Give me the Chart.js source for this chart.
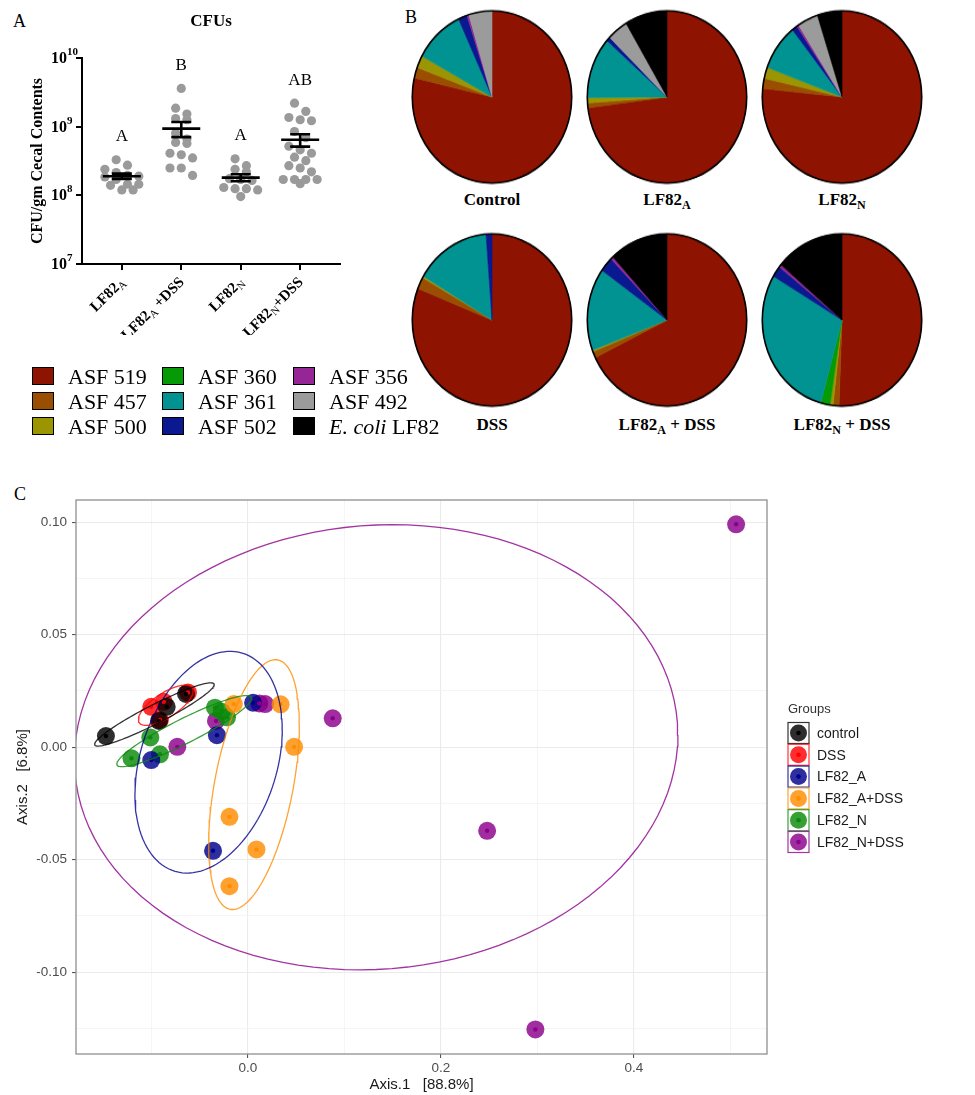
<!DOCTYPE html>
<html>
<head>
<meta charset="utf-8">
<script src="https://cdn.jsdelivr.net/npm/chart.js@4.4.1/dist/chart.umd.min.js"></script>
<style>
  body { margin: 0; background: #fff; }
  #page { position: relative; width: 975px; height: 1095px; overflow: hidden; font-family: 'Liberation Serif', 'Times New Roman', serif; color: #000; }
  canvas { position: absolute; }
  .pie { transform: scaleY(1.08); }
  .tag { position: absolute; font-size: 18px; line-height: 18px; }
  .pielbl { position: absolute; width: 180px; text-align: center; font-weight: bold; font-size: 17px; line-height: 20px; }
  .pielbl sub { font-size: 12px; vertical-align: -4px; line-height: 0; }
  .legtxt { position: absolute; font-size: 22px; line-height: 25px; white-space: nowrap; }
  .sw { position: absolute; width: 22px; height: 18px; box-sizing: border-box; border: 1.6px solid #000; }
</style>
</head>
<body>
<div id="page">
  <div class="tag" style="left:13px;top:12px">A</div>
  <div class="tag" style="left:405px;top:8px">B</div>
  <div class="tag" style="left:14px;top:485px">C</div>
  <canvas id="cfu" width="360" height="335" style="left:0;top:0"></canvas>
  <div id="pies"></div>
  <div id="taxaLegend"></div>
  <canvas id="pcoa" width="975" height="625" style="left:0;top:470px"></canvas>
</div>
<script>
// ---------- A: CFU per gram cecal contents ----------
const cfuGroups = ['LF82_A', 'LF82_A +DSS', 'LF82_N', 'LF82_N+DSS'];
const cfuLF82A = [3.3e8, 2.75e8, 2.4e8, 2.15e8, 1.95e8, 1.9e8, 1.85e8, 1.7e8, 1.45e8, 1.45e8, 1.4e8, 1.2e8, 1.2e8];
const cfuLF82ADSS = [3.6e9, 1.86e9, 1.53e9, 1.31e9, 1.26e9, 8.1e8, 6.6e8, 5.9e8, 5.7e8, 4.1e8, 3.9e8, 3.5e8, 2.5e8, 2.5e8, 1.95e8];
const cfuLF82N = [3.4e8, 2.7e8, 2.4e8, 2.2e8, 1.75e8, 1.7e8, 1.65e8, 1.3e8, 1.25e8, 1.25e8, 1.2e8, 9.6e7];
const cfuLF82NDSS = [2.2e9, 1.67e9, 1.36e9, 1.26e9, 1.22e9, 8.5e8, 6.9e8, 5.2e8, 4.6e8, 4.1e8, 3.6e8, 3.2e8, 2.7e8, 2.5e8, 2.2e8, 1.7e8, 1.7e8, 1.7e8, 1.7e8, 1.48e8];
const cfuLetters = ['A', 'B', 'A', 'AB'];
const cfuTicks = [1e7, 1e8, 1e9, 1e10];

// ---------- B: relative abundance (%) ----------
const taxa = ['ASF 519', 'ASF 457', 'ASF 500', 'ASF 360', 'ASF 361', 'ASF 502', 'ASF 356', 'ASF 492', 'E. coli LF82'];
const taxaColors = ['#8E1300', '#9A4E00', '#9A9500', '#079A07', '#009392', '#0A1990', '#962596', '#9B9B9B', '#000000'];
const pieGroups = ['Control', 'LF82_A', 'LF82_N', 'DSS', 'LF82_A + DSS', 'LF82_N + DSS'];
const pieControl = [78.6, 2.0, 2.3, 0, 10.2, 1.8, 0.4, 4.7, 0];
const pieLF82A = [73.0, 0.9, 1.0, 0, 11.5, 0.8, 0, 4.2, 8.6];
const pieLF82N = [76.6, 1.9, 2.1, 0, 8.7, 1.1, 0.4, 4.2, 5.0];
const pieDSS = [81.0, 2.2, 0.3, 0, 15.3, 1.2, 0, 0, 0];
const pieLF82ADSS = [67.8, 1.2, 0.3, 0, 15.5, 2.8, 0.5, 0, 11.9];
const pieLF82NDSS = [50.6, 1.2, 0.6, 1.9, 29.2, 2.1, 0.5, 0, 13.9];

// ---------- C: PCoA (Axis.1, Axis.2) ----------
const pcGroups = ['control', 'DSS', 'LF82_A', 'LF82_A+DSS', 'LF82_N', 'LF82_N+DSS'];
const pcColors = ['#000000', '#FF0000', '#00008B', '#FF8C00', '#0A8A0A', '#8B008B'];
const pcControl = [[-0.147, 0.0049], [-0.092, 0.0116], [-0.084, 0.0179], [-0.064, 0.0236]];
const pcDSS = [[-0.100, 0.0179], [-0.087, 0.0201], [-0.062, 0.0243], [-0.091, 0.0120]];
const pcLF82A = [[-0.100, -0.0058], [-0.032, 0.0053], [0.0055, 0.0197], [-0.036, -0.0461]];
const pcLF82ADSS = [[-0.0145, 0.0191], [0.034, 0.0190], [0.048, 0.0001], [-0.019, -0.0310], [0.009, -0.0455], [-0.019, -0.0618]];
const pcLF82N = [[-0.101, 0.0043], [-0.1205, -0.0050], [-0.091, -0.0032], [-0.034, 0.0175], [-0.027, 0.0157], [-0.0215, 0.0132]];
const pcLF82NDSS = [[-0.073, 0.0001], [-0.033, 0.0116], [0.012, 0.0194], [0.018, 0.0191], [0.088, 0.0128], [0.248, -0.0372], [0.298, -0.1255], [0.506, 0.0990]];
const ellipseLevel = 0.65;

Chart.defaults.font.family = 'Liberation Sans';

function splitSub(s) {
  const out = [];
  s.split(/_(\w)/).forEach((t, i) => { if (t) out.push({ t: t, sub: i % 2 === 1 }); });
  return out;
}
function alpha(hex, a) {
  const n = parseInt(hex.slice(1), 16);
  return 'rgba(' + (n >> 16) + ',' + ((n >> 8) & 255) + ',' + (n & 255) + ',' + a + ')';
}

// dot-plot layout: rows of similar values spread sideways
function swarm(vals, gi) {
  const sorted = vals.slice().sort((a, b) => b - a);
  const rows = [];
  sorted.forEach(v => {
    const r = rows[rows.length - 1];
    if (r && Math.log10(r[0]) - Math.log10(v) < 0.12 && r.length < 4) r.push(v);
    else rows.push([v]);
  });
  const pts = [];
  rows.forEach(r => r.forEach((v, j) => pts.push({ x: gi + (j - (r.length - 1) / 2) * 0.19, y: v })));
  return pts;
}

const cfuSets = [cfuLF82A, cfuLF82ADSS, cfuLF82N, cfuLF82NDSS];

const cfuDecor = {
  id: 'cfuDecor',
  afterDraw(chart) {
    const { ctx, chartArea } = chart;
    const x = chart.scales.x, y = chart.scales.y;
    ctx.save();
    ctx.fillStyle = '#000';
    ctx.strokeStyle = '#000';
    ctx.textBaseline = 'middle';
    ctx.font = 'bold 17px "Liberation Serif"';
    ctx.textAlign = 'center';
    ctx.fillText('CFUs', (chartArea.left + chartArea.right) / 2, 22);

    cfuTicks.forEach(v => {
      const py = y.getPixelForValue(v);
      ctx.font = 'bold 16px "Liberation Serif"';
      ctx.textAlign = 'right';
      ctx.fillText('10', chartArea.left - 15, py + 1);
      ctx.font = 'bold 11px "Liberation Serif"';
      ctx.textAlign = 'left';
      ctx.fillText(String(Math.round(Math.log10(v))), chartArea.left - 15, py - 6);
    });

    cfuGroups.forEach((g, i) => {
      const segs = splitSub(g);
      ctx.save();
      ctx.translate(x.getPixelForValue(i) + 1, chartArea.bottom + 16);
      ctx.rotate(-Math.PI / 4);
      let total = 0;
      segs.forEach(s => {
        ctx.font = s.sub ? '11px "Liberation Serif"' : 'bold 15px "Liberation Serif"';
        s.w = ctx.measureText(s.t).width;
        total += s.w;
      });
      let cx = -total;
      ctx.textAlign = 'left';
      segs.forEach(s => {
        ctx.font = s.sub ? '11px "Liberation Serif"' : 'bold 15px "Liberation Serif"';
        ctx.fillText(s.t, cx, s.sub ? 4 : 0);
        cx += s.w;
      });
      ctx.restore();
    });

    cfuSets.forEach((vals, i) => {
      const n = vals.length;
      const m = vals.reduce((a, b) => a + b, 0) / n;
      const sd = Math.sqrt(vals.reduce((a, b) => a + (b - m) * (b - m), 0) / (n - 1));
      const sem = sd / Math.sqrt(n);
      const px = x.getPixelForValue(i);
      const pm = y.getPixelForValue(m), pu = y.getPixelForValue(m + sem), pl = y.getPixelForValue(m - sem);
      ctx.lineWidth = 2.6;
      ctx.beginPath();
      ctx.moveTo(px - 19, pm); ctx.lineTo(px + 19, pm);
      ctx.moveTo(px, pu); ctx.lineTo(px, pl);
      ctx.moveTo(px - 10, pu); ctx.lineTo(px + 10, pu);
      ctx.moveTo(px - 10, pl); ctx.lineTo(px + 10, pl);
      ctx.stroke();
      const top = y.getPixelForValue(Math.max(...vals));
      ctx.font = '17px "Liberation Serif"';
      ctx.textAlign = 'center';
      ctx.fillText(cfuLetters[i], px, top - 23);
    });
    ctx.restore();
  }
};

new Chart(document.getElementById('cfu'), {
  type: 'scatter',
  data: {
    datasets: [{
      data: cfuSets.flatMap((v, i) => swarm(v, i)),
      backgroundColor: '#9a9a9a',
      borderWidth: 0,
      pointRadius: 4.6
    }]
  },
  options: {
    responsive: false,
    animation: false,
    events: [],
    layout: { padding: { top: 58, right: 20, left: 0, bottom: 0 } },
    plugins: { legend: { display: false }, tooltip: { enabled: false } },
    scales: {
      x: {
        type: 'linear', min: -0.67, max: 3.67,
        afterFit: s => { s.height = 71; },
        afterBuildTicks: s => { s.ticks = cfuGroups.map((g, i) => ({ value: i })); },
        ticks: { display: false },
        grid: { drawOnChartArea: false, color: '#000', lineWidth: 2, tickLength: 6 },
        border: { color: '#000', width: 2 }
      },
      y: {
        type: 'logarithmic', min: 1e7, max: 1e10,
        afterFit: s => { s.width = 82; },
        afterBuildTicks: s => { s.ticks = cfuTicks.map(v => ({ value: v })); },
        ticks: { display: false },
        grid: { drawOnChartArea: false, color: '#000', lineWidth: 2, tickLength: 6 },
        border: { color: '#000', width: 2 },
        title: {
          display: true, text: 'CFU/gm Cecal Contents', color: '#000',
          font: { family: 'Liberation Serif', weight: 'bold', size: 16 },
          padding: { top: 28, bottom: 0 }
        }
      }
    }
  },
  plugins: [cfuDecor]
});

// ---------- B: pies ----------
const pieSets = [pieControl, pieLF82A, pieLF82N, pieDSS, pieLF82ADSS, pieLF82NDSS];
const pieRim = {
  id: 'pieRim',
  afterDatasetsDraw(chart) {
    const a = chart.getDatasetMeta(0).data[0];
    if (!a) return;
    const ctx = chart.ctx;
    ctx.save();
    ctx.beginPath();
    ctx.arc(a.x, a.y, a.outerRadius, 0, Math.PI * 2);
    ctx.lineWidth = 1.6;
    ctx.strokeStyle = '#000';
    ctx.stroke();
    ctx.restore();
  }
};
const pieHolder = document.getElementById('pies');
const colX = [492, 667, 842], rowY = [97, 320], lblY = [200, 425];
pieSets.forEach((vals, i) => {
  const cx = colX[i % 3], cy = rowY[Math.floor(i / 3)];
  const cv = document.createElement('canvas');
  cv.width = 164; cv.height = 164;
  cv.className = 'pie';
  cv.style.left = (cx - 82) + 'px';
  cv.style.top = (cy - 82) + 'px';
  pieHolder.appendChild(cv);
  new Chart(cv, {
    type: 'pie',
    data: {
      labels: taxa,
      datasets: [{ data: vals, backgroundColor: taxaColors, borderColor: taxaColors, borderWidth: 0.6 }]
    },
    options: {
      responsive: false,
      animation: false,
      events: [],
      layout: { padding: 2 },
      plugins: { legend: { display: false }, tooltip: { enabled: false } }
    },
    plugins: [pieRim]
  });
  const lb = document.createElement('div');
  lb.className = 'pielbl';
  lb.style.left = (cx - 90) + 'px';
  lb.style.top = (lblY[Math.floor(i / 3)] - 10) + 'px';
  lb.innerHTML = splitSub(pieGroups[i]).map(s => s.sub ? '<sub>' + s.t + '</sub>' : s.t).join('');
  pieHolder.appendChild(lb);
});

// taxa legend (3 columns)
const legHolder = document.getElementById('taxaLegend');
const legColX = [32, 162, 293], legRowY = [376, 401, 426];
taxa.forEach((t, i) => {
  const col = Math.floor(i / 3), row = i % 3;
  const sw = document.createElement('div');
  sw.className = 'sw';
  sw.style.left = legColX[col] + 'px';
  sw.style.top = (legRowY[row] - 9) + 'px';
  sw.style.background = taxaColors[i];
  legHolder.appendChild(sw);
  const tx = document.createElement('div');
  tx.className = 'legtxt';
  tx.style.left = (legColX[col] + 36) + 'px';
  tx.style.top = (legRowY[row] - 12.5) + 'px';
  tx.innerHTML = t.startsWith('E. coli') ? '<i>E. coli</i>' + t.slice(7) : t;
  legHolder.appendChild(tx);
});

// ---------- C: PCoA with normal-theory ellipses ----------
function ellipse(pts) {
  const n = pts.length;
  const mx = pts.reduce((a, q) => a + q[0], 0) / n;
  const my = pts.reduce((a, q) => a + q[1], 0) / n;
  let sxx = 0, sxy = 0, syy = 0;
  pts.forEach(q => {
    const dx = q[0] - mx, dy = q[1] - my;
    sxx += dx * dx; sxy += dx * dy; syy += dy * dy;
  });
  sxx /= n - 1; sxy /= n - 1; syy /= n - 1;
  const d = n - 1;
  const q = d / 2 * (Math.pow(1 - ellipseLevel, -2 / d) - 1);
  const r = Math.sqrt(2 * q);
  const a = Math.sqrt(sxx), b = sxy / a, c = Math.sqrt(Math.max(syy - b * b, 0));
  const out = [];
  const segs = 120;
  for (let k = 0; k <= segs; k++) {
    const t = k * 2 * Math.PI / segs;
    out.push({ x: mx + r * Math.cos(t) * a, y: my + r * (Math.cos(t) * b + Math.sin(t) * c) });
  }
  return out;
}

const pcSets = [pcControl, pcDSS, pcLF82A, pcLF82ADSS, pcLF82N, pcLF82NDSS];
const pcDatasets = [];
pcSets.forEach((pts, i) => {
  const xy = pts.map(q => ({ x: q[0], y: q[1] }));
  pcDatasets.push({ data: ellipse(pts), showLine: true, pointRadius: 0, borderColor: alpha(pcColors[i], 0.8), borderWidth: 1.3, fill: false, order: 0 });
  pcDatasets.push({ data: xy, pointRadius: 2.2, backgroundColor: pcColors[i], borderWidth: 0, order: 1 });
  pcDatasets.push({ data: xy, pointRadius: 9, backgroundColor: alpha(pcColors[i], 0.82), borderWidth: 0, order: 2 });
});

function isMajor(v, step) { return Math.abs(Math.round(v / step) * step - v) < 1e-6; }
function fmt(v, dp) { return (Math.abs(v) < 1e-9 ? 0 : v).toFixed(dp); }

const pcDecor = {
  id: 'pcDecor',
  afterDraw(chart) {
    const { ctx, chartArea } = chart;
    ctx.save();
    ctx.strokeStyle = '#8f8f8f';
    ctx.lineWidth = 1.3;
    ctx.strokeRect(chartArea.left, chartArea.top, chartArea.right - chartArea.left, chartArea.bottom - chartArea.top);
    const lx = chartArea.right + 21;
    ctx.fillStyle = '#333';
    ctx.font = '13px "Liberation Sans"';
    ctx.textAlign = 'left';
    ctx.textBaseline = 'middle';
    ctx.fillText('Groups', lx, 239);
    pcGroups.forEach((g, i) => {
      const cy = 263 + i * 21.8;
      ctx.fillStyle = '#fff';
      ctx.fillRect(lx, cy - 10.5, 21, 21);
      ctx.strokeStyle = alpha(pcColors[i], 0.8);
      ctx.lineWidth = 1.2;
      ctx.strokeRect(lx, cy - 10.5, 21, 21);
      ctx.fillStyle = alpha(pcColors[i], 0.82);
      ctx.beginPath(); ctx.arc(lx + 10.5, cy, 8.5, 0, Math.PI * 2); ctx.fill();
      ctx.fillStyle = pcColors[i];
      ctx.beginPath(); ctx.arc(lx + 10.5, cy, 2.3, 0, Math.PI * 2); ctx.fill();
      ctx.fillStyle = '#1a1a1a';
      ctx.font = '14px "Liberation Sans"';
      ctx.fillText(g, lx + 29, cy + 1);
    });
    ctx.restore();
  }
};

new Chart(document.getElementById('pcoa'), {
  type: 'scatter',
  data: { datasets: pcDatasets },
  options: {
    responsive: false,
    animation: false,
    events: [],
    layout: { padding: { top: 30, right: 208, left: 0, bottom: 0 } },
    plugins: { legend: { display: false }, tooltip: { enabled: false } },
    scales: {
      x: {
        type: 'linear', min: -0.178, max: 0.538,
        afterFit: s => { s.height = 41; },
        ticks: {
          stepSize: 0.1, includeBounds: false, maxTicksLimit: 30, autoSkip: false, maxRotation: 0,
          padding: 2, color: '#4d4d4d', font: { size: 13.5 },
          callback: v => isMajor(v, 0.2) ? fmt(v, 1) : ''
        },
        grid: {
          color: c => isMajor(c.tick.value, 0.2) ? '#ebebeb' : '#f3f3f3',
          lineWidth: c => isMajor(c.tick.value, 0.2) ? 1.1 : 0.8,
          tickColor: c => isMajor(c.tick.value, 0.2) ? '#555' : 'rgba(0,0,0,0)',
          tickLength: 4
        },
        border: { display: false },
        title: { display: true, text: 'Axis.1   [88.8%]', color: '#1a1a1a', font: { size: 15 }, padding: { top: 0, bottom: 1 } }
      },
      y: {
        type: 'linear', min: -0.1364, max: 0.1098,
        afterFit: s => { s.width = 76; },
        ticks: {
          stepSize: 0.025, includeBounds: false, maxTicksLimit: 30, autoSkip: false,
          padding: 5, color: '#4d4d4d', font: { size: 13.5 },
          callback: v => isMajor(v, 0.05) ? fmt(v, 2) : ''
        },
        grid: {
          color: c => isMajor(c.tick.value, 0.05) ? '#ebebeb' : '#f3f3f3',
          lineWidth: c => isMajor(c.tick.value, 0.05) ? 1.1 : 0.8,
          tickColor: c => isMajor(c.tick.value, 0.05) ? '#555' : 'rgba(0,0,0,0)',
          tickLength: 4
        },
        border: { display: false },
        title: { display: true, text: 'Axis.2   [6.8%]', color: '#1a1a1a', font: { size: 15 }, padding: { top: 14, bottom: 0 } }
      }
    }
  },
  plugins: [pcDecor]
});
</script>
</body>
</html>
